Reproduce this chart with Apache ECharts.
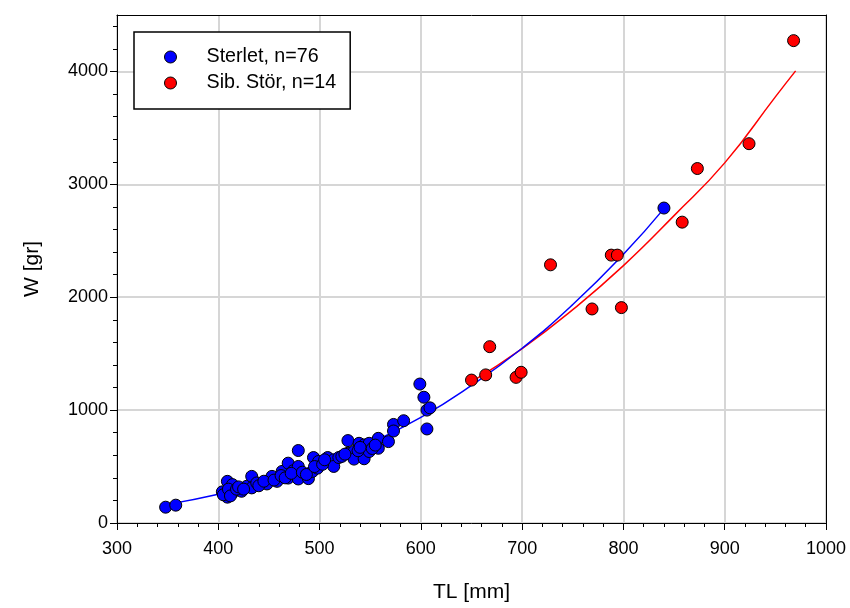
<!DOCTYPE html>
<html>
<head>
<meta charset="utf-8">
<script src="https://cdn.jsdelivr.net/npm/echarts@6/dist/echarts.min.js"></script>
<style>
html,body{margin:0;padding:0;background:#fff;}
#chart{width:850px;height:608px;}
</style>
</head>
<body>
<div id="chart"></div>
<script>
// Sterlet observations (TL mm, W gr)
var sterletTL = [348, 358, 404, 409, 409, 414, 414, 423, 428, 433, 433, 438, 448, 453, 458, 463, 469, 469, 474, 479, 479, 479,
  489, 493, 494, 498, 499, 508, 509, 514, 514, 519, 528, 528, 534, 534, 539, 544, 544, 549, 549, 558, 558, 568, 573, 573, 583,
  599, 603, 606, 609, 606, 405, 410, 412, 418, 420, 425, 440, 445, 455, 462, 466, 472, 483, 487, 495, 503, 505, 522, 525, 538,
  540, 552, 555, 840];
var sterletW = [140, 158, 276, 369, 229, 340, 267, 281, 325, 413, 311, 355, 346, 413, 369, 457, 530, 398, 463, 642, 501, 390,
  393, 457, 580, 486, 545, 580, 545, 560, 501, 580, 730, 618, 633, 566, 706, 692, 569, 706, 633, 750, 662, 721, 873, 815, 906,
  1231, 1114, 1000, 1020, 833, 250, 300, 240, 300, 320, 300, 330, 370, 380, 420, 400, 440, 450, 430, 500, 520, 560, 590, 610, 640,
  670, 660, 690, 2790];
// Sib. Stör observations
var storTL = [650, 664, 668, 694, 699, 728, 769, 788, 794, 798, 858, 873, 924, 968];
var storW = [1266, 1312, 1562, 1290, 1335, 2287, 1896, 2373, 2373, 1908, 2665, 3140, 3360, 4273];
// Fitted curves
var fitSterletTL = [350, 400, 450, 500, 550, 600, 650, 700, 750, 800, 840];
var fitSterletW = [165, 254, 372, 522, 710, 935, 1219, 1548, 1935, 2380, 2785];
var fitStorTL = [650, 700, 750, 800, 850, 900, 950, 970];
var fitStorW = [1250, 1545, 1890, 2280, 2723, 3190, 3775, 4005];
// Axis ticks
var xTicks = [300, 400, 500, 600, 700, 800, 900, 1000];
var yTicks = [0, 1000, 2000, 3000, 4000];
var seriesNames = ['Sterlet, n=76', 'Sib. Stör, n=14'];

function pairs(a, b) { return a.map(function (v, i) { return [v, b[i]]; }); }
var yMinor = [];
for (var v = 200; v < 4500; v += 200) { if (v % 1000 !== 0) yMinor.push(v); }
function plain(val) { return String(val); }

var FONT = 'Liberation Sans, Arial, sans-serif';
var chart = echarts.init(document.getElementById('chart'), null, {renderer: 'canvas'});
chart.setOption({
  animation: false,
  backgroundColor: '#fff',
  grid: {left: 117, right: 24, top: 15, bottom: 81, containLabel: false},
  legend: {
    left: 134, top: 32, orient: 'vertical',
    padding: [15, 14, 16, 30],
    itemWidth: 12, itemHeight: 12, itemGap: 6,
    borderColor: '#000', borderWidth: 1.5, backgroundColor: '#fff',
    textStyle: {fontSize: 19.7, color: '#000', fontFamily: FONT, lineHeight: 18, padding: [0, 0, 0, 25]},
    data: [
      {name: seriesNames[0], icon: 'circle', itemStyle: {color: '#0000ff', borderColor: '#000', borderWidth: 1}},
      {name: seriesNames[1], icon: 'circle', itemStyle: {color: '#ff0000', borderColor: '#000', borderWidth: 1}}
    ]
  },
  xAxis: [{
    type: 'value', min: xTicks[0], max: xTicks[xTicks.length - 1], interval: 100,
    name: 'TL [mm]', nameLocation: 'middle', nameGap: 59,
    nameTextStyle: {fontSize: 21, color: '#000', fontFamily: FONT},
    axisLine: {show: true, onZero: false, lineStyle: {color: '#000', width: 1}},
    axisTick: {show: true, inside: false, length: 7, lineStyle: {color: '#000'}},
    minorTick: {show: true, splitNumber: 5, length: 4, lineStyle: {color: '#000'}},
    axisLabel: {fontSize: 18, color: '#000', fontFamily: FONT, margin: 17, formatter: plain},
    splitLine: {show: true, lineStyle: {color: '#d6d6d6', width: 2}}
  }, {
    type: 'value', position: 'top', min: xTicks[0], max: xTicks[xTicks.length - 1],
    axisLine: {show: true, onZero: false, lineStyle: {color: '#000', width: 1}},
    axisTick: {show: false}, axisLabel: {show: false}, splitLine: {show: false}
  }],
  yAxis: [{
    type: 'value', min: 0, max: 4500, interval: 1000,
    name: 'W [gr]', nameLocation: 'middle', nameGap: 74,
    nameTextStyle: {fontSize: 21, color: '#000', fontFamily: FONT},
    axisLine: {show: true, onZero: false, lineStyle: {color: '#000', width: 1}},
    axisTick: {show: true, inside: false, length: 7, customValues: yTicks, lineStyle: {color: '#000'}},
    axisLabel: {fontSize: 18, color: '#000', fontFamily: FONT, margin: 9, customValues: yTicks, formatter: plain},
    splitLine: {show: true, lineStyle: {color: '#d6d6d6', width: 2}}
  }, {
    type: 'value', position: 'left', min: 0, max: 4500, interval: 200,
    axisLine: {show: false},
    axisTick: {show: true, inside: false, length: 4, customValues: yMinor, lineStyle: {color: '#000'}},
    axisLabel: {show: false}, splitLine: {show: false}
  }, {
    type: 'value', position: 'right', min: 0, max: 4500,
    axisLine: {show: true, onZero: false, lineStyle: {color: '#000', width: 1}},
    axisTick: {show: false}, axisLabel: {show: false}, splitLine: {show: false}
  }],
  series: [
    {
      type: 'line', name: 'fitStor', data: pairs(fitStorTL, fitStorW), smooth: true, showSymbol: false,
      lineStyle: {color: '#ff0000', width: 1.5}, z: 2
    },
    {
      type: 'line', name: 'fitSterlet', data: pairs(fitSterletTL, fitSterletW), smooth: true, showSymbol: false,
      lineStyle: {color: '#0000ff', width: 1.5}, z: 2
    },
    {
      type: 'scatter', name: seriesNames[0], data: pairs(sterletTL, sterletW), symbol: 'circle', symbolSize: 12,
      itemStyle: {color: '#0000ff', borderColor: '#000', borderWidth: 1, opacity: 1}, z: 3
    },
    {
      type: 'scatter', name: seriesNames[1], data: pairs(storTL, storW), symbol: 'circle', symbolSize: 12,
      itemStyle: {color: '#ff0000', borderColor: '#000', borderWidth: 1, opacity: 1}, z: 4
    }
  ]
});
</script>
</body>
</html>
